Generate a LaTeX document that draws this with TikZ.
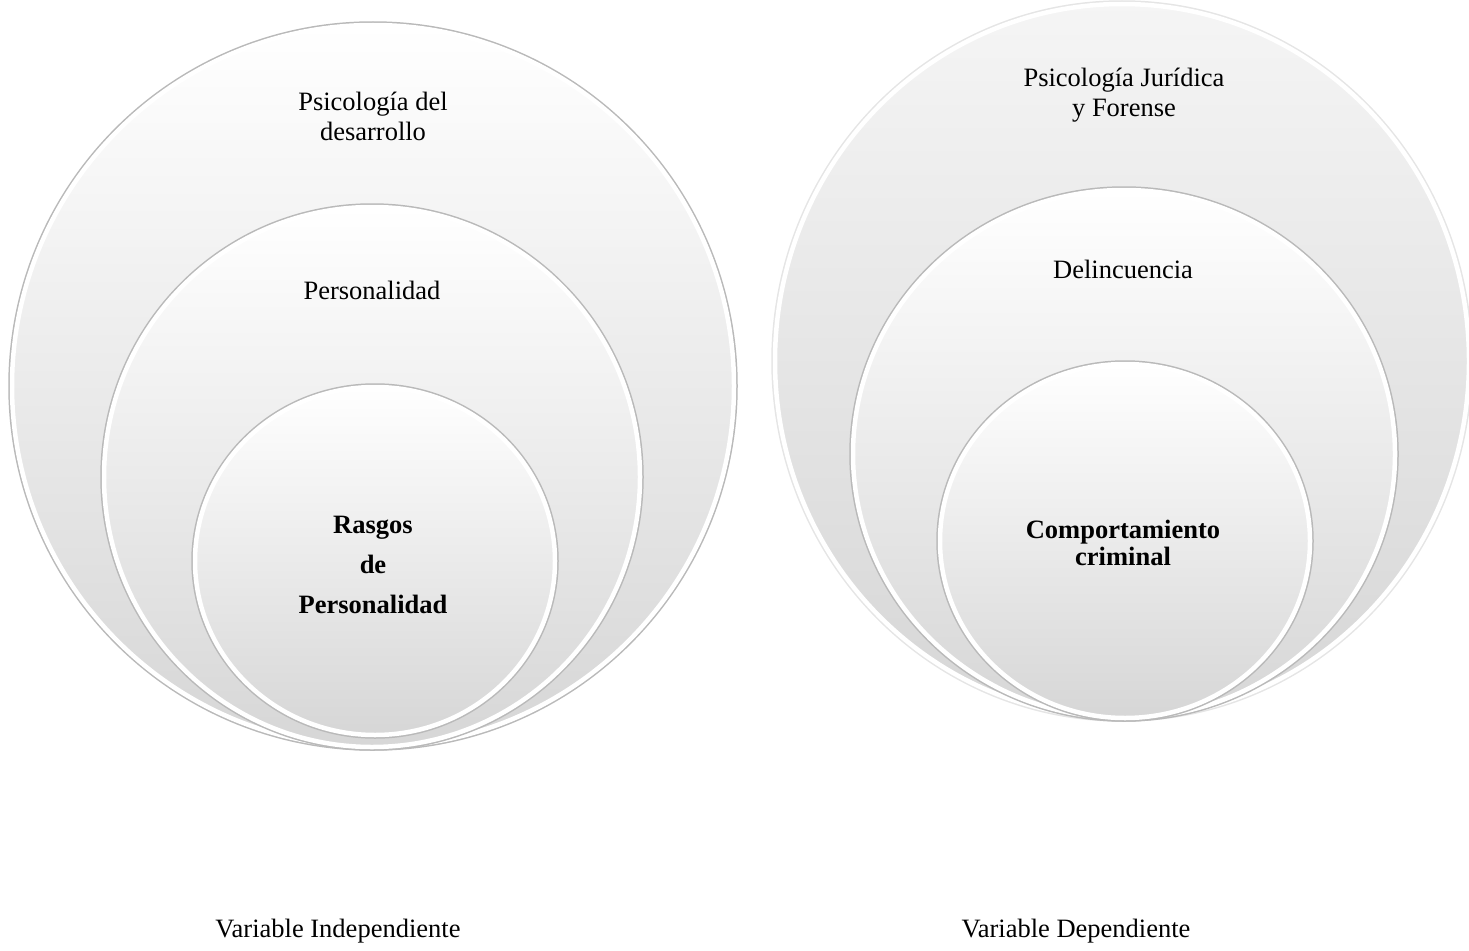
\documentclass[tikz,border=0pt]{standalone}
\usepackage{fontspec}
\setmainfont{Liberation Serif}
\usetikzlibrary{positioning,shapes.geometric,shadows}
\tikzset{my ring/.style={ellipse,inner sep=0pt,drop shadow={shadow xshift=0pt,shadow yshift=-3pt,opacity=.28},preaction={draw=#1,line width=7.5pt},top color=white,bottom color=gray!32,draw=white,line width=4.5pt},
my ring/.default=gray!55,
my label/.style={font=\fontsize{26.5}{30}\selectfont,align=center,inner sep=0pt}}

\begin{document}
\begin{tikzpicture}[x=1pt,y=-1pt]
\useasboundingbox (0,0) rectangle (1469,950);
% independent variable
\node[my ring,minimum width=722pt,minimum height=722pt] (desarrollo) at (373,386) {};
\node[my ring,minimum width=536pt,minimum height=540pt] (personalidad) at (372,477) {};
\node[my ring,minimum width=360pt,minimum height=348pt] (rasgos) at (375,561) {};
\node[my label] (desarrollotxt) at (373,116) {Psicología del\\desarrollo};
\node[my label] (personalidadtxt) at (372,290) {Personalidad};
\node[my label,font=\fontsize{26.5}{40}\selectfont\bfseries] (rasgostxt) at (373,565) {Rasgos\\de\\Personalidad};
% dependent variable
\node[my ring=gray!20,top color=gray!8,minimum width=694pt,minimum height=714pt] (juridica) at (1122,361) {};
\node[my ring,minimum width=542pt,minimum height=528pt] (delincuencia) at (1124,454) {};
\node[my ring,minimum width=370pt,minimum height=354pt] (comportamiento) at (1125,541) {};
\node[my label] (juridicatxt) at (1124,95) {Psicología Jurídica\\y Forense};
\node[my label] (delincuenciatxt) at (1123,269) {Delincuencia};
\node[my label,font=\fontsize{26.5}{27}\selectfont\bfseries] (comportamientotxt) at (1123,543) {Comportamiento\\criminal};
% captions
\node[my label] (independiente) at (338,931) {Variable Independiente};
\node[my label] (dependiente) at (1076,931) {Variable Dependiente};
\end{tikzpicture}
\end{document}
